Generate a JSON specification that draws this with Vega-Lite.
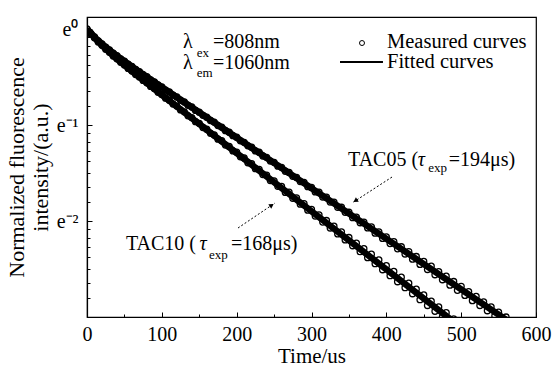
{
  "$schema": "https://vega.github.io/schema/vega-lite/v6.json",
  "width": 449,
  "height": 300,
  "autosize": {"type": "none"},
  "padding": {"left": 87, "top": 17, "right": 18, "bottom": 50},
  "background": "white",
  "config": {
    "font": "Liberation Serif",
    "view": {"stroke": "black", "strokeWidth": 1.2},
    "axis": {"grid": false, "domainColor": "black", "domainWidth": 1.2, "tickColor": "black", "tickWidth": 1, "labelColor": "black", "titleColor": "black", "labelFont": "Liberation Serif", "titleFont": "Liberation Serif", "titleFontWeight": "normal", "labelOverlap": false, "labelBound": false, "labelFlush": false}
  },
  "datasets": {
    "measured": [
      {"curve":"TAC05","t":0,"lnI":0},{"curve":"TAC05","t":5,"lnI":-0.046},{"curve":"TAC05","t":10,"lnI":-0.083},{"curve":"TAC05","t":15,"lnI":-0.123},{"curve":"TAC05","t":20,"lnI":-0.154},{"curve":"TAC05","t":25,"lnI":-0.19},{"curve":"TAC05","t":30,"lnI":-0.218},{"curve":"TAC05","t":35,"lnI":-0.252},{"curve":"TAC05","t":40,"lnI":-0.278},{"curve":"TAC05","t":45,"lnI":-0.311},{"curve":"TAC05","t":50,"lnI":-0.335},{"curve":"TAC05","t":55,"lnI":-0.366},{"curve":"TAC05","t":60,"lnI":-0.39},{"curve":"TAC05","t":65,"lnI":-0.421},{"curve":"TAC05","t":70,"lnI":-0.444},{"curve":"TAC05","t":75,"lnI":-0.475},{"curve":"TAC05","t":80,"lnI":-0.497},{"curve":"TAC05","t":85,"lnI":-0.529},{"curve":"TAC05","t":90,"lnI":-0.55},{"curve":"TAC05","t":95,"lnI":-0.582},{"curve":"TAC05","t":100,"lnI":-0.603},{"curve":"TAC05","t":105,"lnI":-0.636},{"curve":"TAC05","t":110,"lnI":-0.655},{"curve":"TAC05","t":115,"lnI":-0.689},{"curve":"TAC05","t":120,"lnI":-0.708},{"curve":"TAC05","t":125,"lnI":-0.742},{"curve":"TAC05","t":130,"lnI":-0.76},{"curve":"TAC05","t":135,"lnI":-0.795},{"curve":"TAC05","t":140,"lnI":-0.812},{"curve":"TAC05","t":145,"lnI":-0.848},{"curve":"TAC05","t":150,"lnI":-0.866},{"curve":"TAC05","t":155,"lnI":-0.899},{"curve":"TAC05","t":160,"lnI":-0.918},{"curve":"TAC05","t":165,"lnI":-0.953},{"curve":"TAC05","t":170,"lnI":-0.97},{"curve":"TAC05","t":175,"lnI":-1.006},{"curve":"TAC05","t":180,"lnI":-1.022},{"curve":"TAC05","t":185,"lnI":-1.059},{"curve":"TAC05","t":190,"lnI":-1.075},{"curve":"TAC05","t":195,"lnI":-1.111},{"curve":"TAC05","t":200,"lnI":-1.127},{"curve":"TAC05","t":205,"lnI":-1.165},{"curve":"TAC05","t":210,"lnI":-1.18},{"curve":"TAC05","t":215,"lnI":-1.217},{"curve":"TAC05","t":220,"lnI":-1.232},{"curve":"TAC05","t":225,"lnI":-1.27},{"curve":"TAC05","t":230,"lnI":-1.284},{"curve":"TAC05","t":235,"lnI":-1.323},{"curve":"TAC05","t":240,"lnI":-1.337},{"curve":"TAC05","t":245,"lnI":-1.376},{"curve":"TAC05","t":250,"lnI":-1.389},{"curve":"TAC05","t":255,"lnI":-1.429},{"curve":"TAC05","t":260,"lnI":-1.441},{"curve":"TAC05","t":265,"lnI":-1.482},{"curve":"TAC05","t":270,"lnI":-1.494},{"curve":"TAC05","t":275,"lnI":-1.535},{"curve":"TAC05","t":280,"lnI":-1.546},{"curve":"TAC05","t":285,"lnI":-1.589},{"curve":"TAC05","t":290,"lnI":-1.597},{"curve":"TAC05","t":295,"lnI":-1.642},{"curve":"TAC05","t":300,"lnI":-1.65},{"curve":"TAC05","t":305,"lnI":-1.697},{"curve":"TAC05","t":310,"lnI":-1.7},{"curve":"TAC05","t":315,"lnI":-1.75},{"curve":"TAC05","t":320,"lnI":-1.752},{"curve":"TAC05","t":325,"lnI":-1.803},{"curve":"TAC05","t":330,"lnI":-1.804},{"curve":"TAC05","t":335,"lnI":-1.858},{"curve":"TAC05","t":340,"lnI":-1.857},{"curve":"TAC05","t":345,"lnI":-1.91},{"curve":"TAC05","t":350,"lnI":-1.909},{"curve":"TAC05","t":355,"lnI":-1.965},{"curve":"TAC05","t":360,"lnI":-1.96},{"curve":"TAC05","t":365,"lnI":-2.018},{"curve":"TAC05","t":370,"lnI":-2.012},{"curve":"TAC05","t":375,"lnI":-2.072},{"curve":"TAC05","t":380,"lnI":-2.062},{"curve":"TAC05","t":385,"lnI":-2.127},{"curve":"TAC05","t":390,"lnI":-2.114},{"curve":"TAC05","t":395,"lnI":-2.181},{"curve":"TAC05","t":400,"lnI":-2.165},{"curve":"TAC05","t":405,"lnI":-2.235},{"curve":"TAC05","t":410,"lnI":-2.215},{"curve":"TAC05","t":415,"lnI":-2.29},{"curve":"TAC05","t":420,"lnI":-2.268},{"curve":"TAC05","t":425,"lnI":-2.344},{"curve":"TAC05","t":430,"lnI":-2.318},{"curve":"TAC05","t":435,"lnI":-2.398},{"curve":"TAC05","t":440,"lnI":-2.37},{"curve":"TAC05","t":445,"lnI":-2.452},{"curve":"TAC05","t":450,"lnI":-2.42},{"curve":"TAC05","t":455,"lnI":-2.505},{"curve":"TAC05","t":460,"lnI":-2.47},{"curve":"TAC05","t":465,"lnI":-2.56},{"curve":"TAC05","t":470,"lnI":-2.528},{"curve":"TAC05","t":475,"lnI":-2.612},{"curve":"TAC05","t":480,"lnI":-2.575},{"curve":"TAC05","t":485,"lnI":-2.668},{"curve":"TAC05","t":490,"lnI":-2.63},{"curve":"TAC05","t":495,"lnI":-2.722},{"curve":"TAC05","t":500,"lnI":-2.68},{"curve":"TAC05","t":505,"lnI":-2.775},{"curve":"TAC05","t":510,"lnI":-2.735},{"curve":"TAC05","t":515,"lnI":-2.83},{"curve":"TAC05","t":520,"lnI":-2.785},{"curve":"TAC05","t":525,"lnI":-2.88},{"curve":"TAC05","t":530,"lnI":-2.842},{"curve":"TAC05","t":535,"lnI":-2.935},{"curve":"TAC05","t":540,"lnI":-2.895},{"curve":"TAC05","t":545,"lnI":-2.988},{"curve":"TAC05","t":550,"lnI":-2.95},{"curve":"TAC05","t":555,"lnI":-3.04},{"curve":"TAC05","t":560,"lnI":-3.0},
      {"curve":"TAC10","t":5,"lnI":-0.05},{"curve":"TAC10","t":10,"lnI":-0.09},{"curve":"TAC10","t":15,"lnI":-0.135},{"curve":"TAC10","t":20,"lnI":-0.17},{"curve":"TAC10","t":25,"lnI":-0.211},{"curve":"TAC10","t":30,"lnI":-0.242},{"curve":"TAC10","t":35,"lnI":-0.281},{"curve":"TAC10","t":40,"lnI":-0.309},{"curve":"TAC10","t":45,"lnI":-0.347},{"curve":"TAC10","t":50,"lnI":-0.374},{"curve":"TAC10","t":55,"lnI":-0.411},{"curve":"TAC10","t":60,"lnI":-0.437},{"curve":"TAC10","t":65,"lnI":-0.474},{"curve":"TAC10","t":70,"lnI":-0.499},{"curve":"TAC10","t":75,"lnI":-0.536},{"curve":"TAC10","t":80,"lnI":-0.56},{"curve":"TAC10","t":85,"lnI":-0.598},{"curve":"TAC10","t":90,"lnI":-0.621},{"curve":"TAC10","t":95,"lnI":-0.659},{"curve":"TAC10","t":100,"lnI":-0.682},{"curve":"TAC10","t":105,"lnI":-0.721},{"curve":"TAC10","t":110,"lnI":-0.742},{"curve":"TAC10","t":115,"lnI":-0.782},{"curve":"TAC10","t":120,"lnI":-0.803},{"curve":"TAC10","t":125,"lnI":-0.843},{"curve":"TAC10","t":130,"lnI":-0.863},{"curve":"TAC10","t":135,"lnI":-0.904},{"curve":"TAC10","t":140,"lnI":-0.923},{"curve":"TAC10","t":145,"lnI":-0.965},{"curve":"TAC10","t":150,"lnI":-0.983},{"curve":"TAC10","t":155,"lnI":-1.026},{"curve":"TAC10","t":160,"lnI":-1.043},{"curve":"TAC10","t":165,"lnI":-1.087},{"curve":"TAC10","t":170,"lnI":-1.103},{"curve":"TAC10","t":175,"lnI":-1.148},{"curve":"TAC10","t":180,"lnI":-1.163},{"curve":"TAC10","t":185,"lnI":-1.209},{"curve":"TAC10","t":190,"lnI":-1.223},{"curve":"TAC10","t":195,"lnI":-1.27},{"curve":"TAC10","t":200,"lnI":-1.283},{"curve":"TAC10","t":205,"lnI":-1.332},{"curve":"TAC10","t":210,"lnI":-1.343},{"curve":"TAC10","t":215,"lnI":-1.393},{"curve":"TAC10","t":220,"lnI":-1.403},{"curve":"TAC10","t":225,"lnI":-1.455},{"curve":"TAC10","t":230,"lnI":-1.462},{"curve":"TAC10","t":235,"lnI":-1.516},{"curve":"TAC10","t":240,"lnI":-1.522},{"curve":"TAC10","t":245,"lnI":-1.578},{"curve":"TAC10","t":250,"lnI":-1.581},{"curve":"TAC10","t":255,"lnI":-1.639},{"curve":"TAC10","t":260,"lnI":-1.64},{"curve":"TAC10","t":265,"lnI":-1.702},{"curve":"TAC10","t":270,"lnI":-1.7},{"curve":"TAC10","t":275,"lnI":-1.764},{"curve":"TAC10","t":280,"lnI":-1.759},{"curve":"TAC10","t":285,"lnI":-1.825},{"curve":"TAC10","t":290,"lnI":-1.818},{"curve":"TAC10","t":295,"lnI":-1.887},{"curve":"TAC10","t":300,"lnI":-1.878},{"curve":"TAC10","t":305,"lnI":-1.949},{"curve":"TAC10","t":310,"lnI":-1.936},{"curve":"TAC10","t":315,"lnI":-2.011},{"curve":"TAC10","t":320,"lnI":-1.995},{"curve":"TAC10","t":325,"lnI":-2.073},{"curve":"TAC10","t":330,"lnI":-2.054},{"curve":"TAC10","t":335,"lnI":-2.135},{"curve":"TAC10","t":340,"lnI":-2.113},{"curve":"TAC10","t":345,"lnI":-2.197},{"curve":"TAC10","t":350,"lnI":-2.172},{"curve":"TAC10","t":355,"lnI":-2.258},{"curve":"TAC10","t":360,"lnI":-2.23},{"curve":"TAC10","t":365,"lnI":-2.32},{"curve":"TAC10","t":370,"lnI":-2.288},{"curve":"TAC10","t":375,"lnI":-2.382},{"curve":"TAC10","t":380,"lnI":-2.346},{"curve":"TAC10","t":385,"lnI":-2.445},{"curve":"TAC10","t":390,"lnI":-2.405},{"curve":"TAC10","t":395,"lnI":-2.508},{"curve":"TAC10","t":400,"lnI":-2.465},{"curve":"TAC10","t":405,"lnI":-2.57},{"curve":"TAC10","t":410,"lnI":-2.525},{"curve":"TAC10","t":415,"lnI":-2.633},{"curve":"TAC10","t":420,"lnI":-2.585},{"curve":"TAC10","t":425,"lnI":-2.695},{"curve":"TAC10","t":430,"lnI":-2.648},{"curve":"TAC10","t":435,"lnI":-2.758},{"curve":"TAC10","t":440,"lnI":-2.71},{"curve":"TAC10","t":445,"lnI":-2.82},{"curve":"TAC10","t":450,"lnI":-2.77},{"curve":"TAC10","t":455,"lnI":-2.88},{"curve":"TAC10","t":460,"lnI":-2.835},{"curve":"TAC10","t":465,"lnI":-2.94},{"curve":"TAC10","t":470,"lnI":-2.895},{"curve":"TAC10","t":475,"lnI":-3.0},{"curve":"TAC10","t":480,"lnI":-2.955},{"curve":"TAC10","t":485,"lnI":-3.05},{"curve":"TAC10","t":490,"lnI":-3.02}
    ],
    "fitted": [
      {"curve":"TAC05","t":0,"lnI":0},{"curve":"TAC05","t":10,"lnI":-0.0841},{"curve":"TAC05","t":20,"lnI":-0.1559},{"curve":"TAC05","t":30,"lnI":-0.2201},{"curve":"TAC05","t":40,"lnI":-0.2797},{"curve":"TAC05","t":60,"lnI":-0.3918},{"curve":"TAC05","t":80,"lnI":-0.4996},{"curve":"TAC05","t":100,"lnI":-0.6058},{"curve":"TAC05","t":120,"lnI":-0.7116},{"curve":"TAC05","t":560,"lnI":-3.0274},
      {"curve":"TAC10","t":0,"lnI":0},{"curve":"TAC10","t":10,"lnI":-0.0921},{"curve":"TAC10","t":20,"lnI":-0.1718},{"curve":"TAC10","t":30,"lnI":-0.244},{"curve":"TAC10","t":40,"lnI":-0.3116},{"curve":"TAC10","t":60,"lnI":-0.4396},{"curve":"TAC10","t":80,"lnI":-0.5633},{"curve":"TAC10","t":100,"lnI":-0.6856},{"curve":"TAC10","t":120,"lnI":-0.8073},{"curve":"TAC10","t":490,"lnI":-3.0497}
    ]
  },
  "encoding": {
    "x": {
      "field": "t", "type": "quantitative",
      "scale": {"domain": [0, 600], "nice": false, "zero": false},
      "axis": {
        "title": "Time/us",
        "values": [0, 50, 100, 150, 200, 250, 300, 350, 400, 450, 500, 550, 600],
        "labelExpr": "datum.value % 100 === 0 ? datum.label : ''",
        "tickSize": {"condition": {"test": "datum.value % 100 === 0", "value": -5}, "value": -3},
        "labelPadding": 12,
        "labelFont": "Liberation Serif",
        "titleFont": "Liberation Serif",
        "labelFontSize": 20,
        "titleFontSize": 21,
        "titleY": 45,
        "titleBaseline": "alphabetic"
      }
    },
    "y": {
      "field": "lnI", "type": "quantitative",
      "scale": {"domain": [-3, 0.125], "nice": false, "zero": false},
      "axis": {
        "title": ["Normalized fluorescence", "intensity/(a.u.)"],
        "values": [0, -0.082, -0.172, -0.271, -0.38, -0.503, -0.643, -0.805, -1, -1.082, -1.172, -1.271, -1.38, -1.503, -1.643, -1.805, -2, -2.082, -2.172, -2.271, -2.38, -2.503, -2.643, -2.805, -3],
        "labelExpr": "abs(datum.value - round(datum.value)) < 0.001 ? (datum.value > -0.5 ? 'e⁰' : datum.value > -1.5 ? 'e⁻¹' : datum.value > -2.5 ? 'e⁻²' : '') : ''",
        "tickSize": {"condition": {"test": "abs(datum.value - round(datum.value)) < 0.001", "value": -5}, "value": -3},
        "labelPadding": 14,
        "labelFont": "Liberation Serif",
        "titleFont": "Liberation Serif",
        "labelFontSize": 20,
        "titleFontSize": 22,
        "titleLineHeight": 24
      }
    }
  },
  "layer": [
    {
      "data": {"name": "measured"},
      "mark": {"type": "point", "shape": "circle", "filled": false, "size": 36, "strokeWidth": 1.3, "color": "black", "opacity": 1, "clip": true},
      "encoding": {"detail": {"field": "curve"}}
    },
    {
      "data": {"name": "fitted"},
      "mark": {"type": "line", "color": "black", "strokeWidth": 6.5, "clip": true},
      "encoding": {"detail": {"field": "curve"}}
    },
    {
      "data": {"values": [
        {"label": "TAC05", "t": 407.6, "lnI": -1.542, "t2": 354.1, "lnI2": -1.8125},
        {"label": "TAC10", "t": 201.8, "lnI": -2.073, "t2": 251.2, "lnI2": -1.8125}
      ]},
      "mark": {"type": "rule", "color": "black", "strokeWidth": 1, "strokeDash": [2, 2]},
      "encoding": {"x2": {"field": "t2"}, "y2": {"field": "lnI2"}}
    },
    {
      "data": {"values": [{"label": "TAC05", "t": 358.7, "lnI": -1.79}]},
      "mark": {"type": "point", "shape": "triangle-up", "filled": true, "size": 28, "angle": 237, "color": "black", "opacity": 1},
      "encoding": {}
    },
    {
      "data": {"values": [{"label": "TAC10", "t": 246.8, "lnI": -1.835}]},
      "mark": {"type": "point", "shape": "triangle-up", "filled": true, "size": 28, "angle": 56, "color": "black", "opacity": 1},
      "encoding": {}
    },
    {
      "data": {"values": [{"item": "Measured curves", "t": 367.5, "lnI": -0.146}]},
      "mark": {"type": "point", "shape": "circle", "filled": false, "size": 25, "strokeWidth": 1, "color": "black", "opacity": 1},
      "encoding": {}
    },
    {
      "data": {"values": [{"item": "Fitted curves", "t": 338.1, "lnI": -0.344, "t2": 395.5}]},
      "mark": {"type": "rule", "color": "black", "strokeWidth": 2},
      "encoding": {"x2": {"field": "t2"}}
    },
    {
      "data": {"values": [
        {"t": 128.3, "lnI": -0.135, "text": "λ"},
        {"t": 168.4, "lnI": -0.135, "text": "=808nm"},
        {"t": 128.3, "lnI": -0.354, "text": "λ"},
        {"t": 168.4, "lnI": -0.354, "text": "=1060nm"},
        {"t": 348.8, "lnI": -1.365, "text": "TAC05 ("},
        {"t": 483.5, "lnI": -1.365, "text": "=194μs)"},
        {"t": 52.0, "lnI": -2.24, "text": "TAC10 ("},
        {"t": 192.4, "lnI": -2.24, "text": "=168μs)"}
      ]},
      "mark": {"type": "text", "align": "left", "baseline": "middle", "fontSize": 20, "font": "Liberation Serif", "color": "black"},
      "encoding": {"text": {"field": "text"}}
    },
    {
      "data": {"values": [
        {"t": 400.9, "lnI": -0.135, "text": "Measured curves"},
        {"t": 400.9, "lnI": -0.344, "text": "Fitted curves"}
      ]},
      "mark": {"type": "text", "align": "left", "baseline": "middle", "fontSize": 20.5, "font": "Liberation Serif", "color": "black"},
      "encoding": {"text": {"field": "text"}}
    },
    {
      "data": {"values": [
        {"t": 442.0, "lnI": -1.365, "text": "τ"},
        {"t": 150.5, "lnI": -2.24, "text": "τ"}
      ]},
      "mark": {"type": "text", "align": "left", "baseline": "middle", "fontSize": 20, "fontStyle": "italic", "font": "Liberation Serif", "color": "black"},
      "encoding": {"text": {"field": "text"}}
    },
    {
      "data": {"values": [
        {"t": 146.5, "lnI": -0.25, "text": "ex"},
        {"t": 146.5, "lnI": -0.458, "text": "em"},
        {"t": 456.0, "lnI": -1.448, "text": "exp"},
        {"t": 163.0, "lnI": -2.354, "text": "exp"}
      ]},
      "mark": {"type": "text", "align": "left", "baseline": "middle", "fontSize": 13, "font": "Liberation Serif", "color": "black"},
      "encoding": {"text": {"field": "text"}}
    }
  ]
}
